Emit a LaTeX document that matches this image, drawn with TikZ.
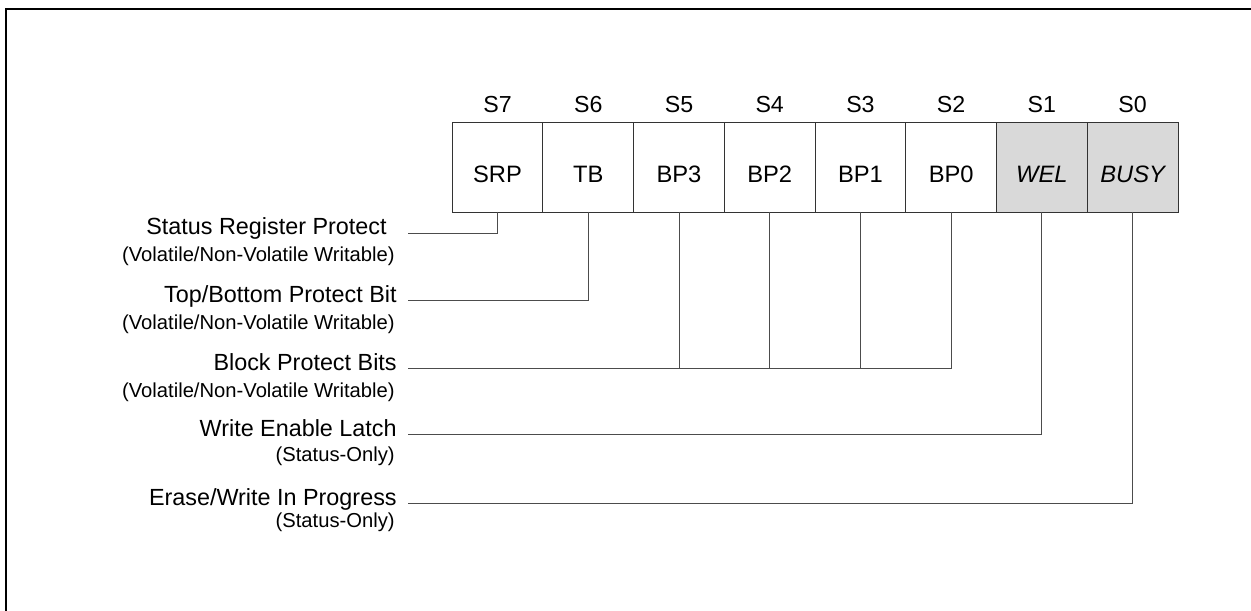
\documentclass[tikz,border=0pt]{standalone}
\usepackage{fontspec}
\setmainfont{Liberation Sans}
\usepackage{tikz}
\usetikzlibrary{positioning}

\begin{document}
\begin{tikzpicture}[
    x=0.02cm, y=-0.02cm,
    node distance=0.18cm and 0pt,
    cell/.style={draw=black!80, line width=0.5pt, minimum width=1.815cm, minimum height=1.8cm,
                 text height=0.64cm, text depth=0pt, inner sep=0pt, outer sep=0pt,
                 font=\fontsize{13.5}{15}\selectfont},
    flag/.style={cell, fill=black!15, font=\fontsize{13.5}{15}\selectfont\itshape},
    bitno/.style={inner sep=0pt, text depth=0pt, font=\fontsize{13.2}{15}\selectfont},
    lbl/.style={inner sep=0pt, anchor=base east, font=\fontsize{13.3}{15}\selectfont},
    sublbl/.style={inner sep=0pt, anchor=base east, font=\fontsize{11.5}{13}\selectfont},
    wire/.style={draw=black!70, line width=0.5pt}
]
\useasboundingbox (0,0) rectangle (1251,611);
\draw[line width=1.2pt] (6,611) -- (6,9) -- (1251,9);

% register cells
\node[cell] (srp) at (497.5,167) {SRP};
\node[cell, right=of srp] (tb) {TB};
\node[cell, right=of tb] (bp3) {BP3};
\node[cell, right=of bp3] (bp2) {BP2};
\node[cell, right=of bp2] (bp1) {BP1};
\node[cell, right=of bp1] (bp0) {BP0};
\node[flag, right=of bp0] (wel) {WEL};
\node[flag, right=of wel] (busy) {BUSY};

% bit numbers
\node[bitno, above=of srp] (s7) {S7};
\node[bitno, above=of tb] (s6) {S6};
\node[bitno, above=of bp3] (s5) {S5};
\node[bitno, above=of bp2] (s4) {S4};
\node[bitno, above=of bp1] (s3) {S3};
\node[bitno, above=of bp0] (s2) {S2};
\node[bitno, above=of wel] (s1) {S1};
\node[bitno, above=of busy] (s0) {S0};

% descriptions
\node[lbl] (srpl) at (387,235) {Status Register Protect};
\node[sublbl] (srps) at (395,262) {(Volatile/Non-Volatile Writable)};
\node[lbl] (tbl) at (397,302) {Top/Bottom Protect Bit};
\node[sublbl] (tbs) at (395,329) {(Volatile/Non-Volatile Writable)};
\node[lbl] (bpl) at (397,370) {Block Protect Bits};
\node[sublbl] (bps) at (395,397) {(Volatile/Non-Volatile Writable)};
\node[lbl] (well) at (397,436) {Write Enable Latch};
\node[sublbl] (wels) at (395,461) {(Status-Only)};
\node[lbl] (busyl) at (397,505) {Erase/Write In Progress};
\node[sublbl] (busys) at (395,527) {(Status-Only)};

\coordinate (srpw) at (408,233);
\coordinate (tbw) at (408,300);
\coordinate (bpw) at (408,368);
\coordinate (welw) at (408,434);
\coordinate (busyw) at (408,503);

\draw[wire] (srp.south) |- (srpw);
\draw[wire] (tb.south) |- (tbw);
\draw[wire] (bp0.south) |- (bpw);
\draw[wire] (bp1.south) -- (bp1.south |- bpw);
\draw[wire] (bp2.south) -- (bp2.south |- bpw);
\draw[wire] (bp3.south) -- (bp3.south |- bpw);
\draw[wire] (wel.south) |- (welw);
\draw[wire] (busy.south) |- (busyw);
\end{tikzpicture}
\end{document}
